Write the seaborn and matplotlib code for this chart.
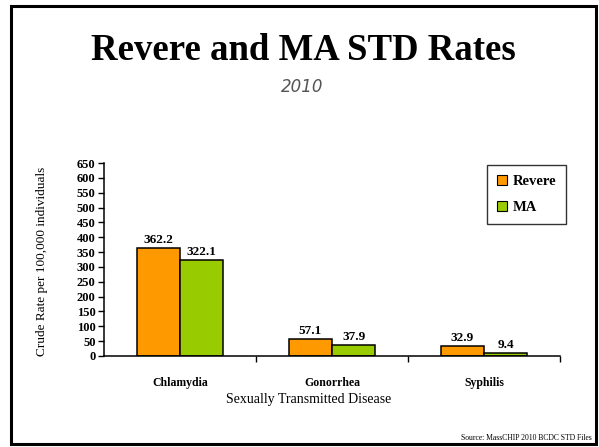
import matplotlib
matplotlib.use("Agg")
import matplotlib.pyplot as plt
import seaborn as sns
import pandas as pd
from matplotlib.patches import Rectangle
from matplotlib.ticker import FixedLocator

diseases = ["Chlamydia", "Gonorrhea", "Syphilis"]
revere = [362.2, 57.1, 32.9]
ma = [322.1, 37.9, 9.4]
series = ["Revere", "MA"]
colors = ["#FF9900", "#99CC00"]
yticks = list(range(0, 651, 50))

df = pd.DataFrame({
    "Disease": diseases * 2,
    "Rate": revere + ma,
    "Area": ["Revere"] * 3 + ["MA"] * 3,
})

sns.set_theme(style="white")
plt.rcParams["font.family"] = ["Liberation Serif", "DejaVu Serif"]
for k in ["text.color", "axes.labelcolor", "xtick.color", "ytick.color"]:
    plt.rcParams[k] = "black"

W, H = 599, 447
fig = plt.figure(figsize=(W / 100, H / 100), dpi=100)
ax = fig.add_axes([104 / W, 1 - 356 / H, (560 - 104) / W, (356 - 163) / H])

sns.barplot(data=df, x="Disease", y="Rate", hue="Area", order=diseases,
            hue_order=series, palette=colors, width=0.57, edgecolor="black",
            linewidth=1.1, saturation=1, ax=ax, legend=False)

for cont in ax.containers:
    ax.bar_label(cont, fmt="%.1f", padding=1.5, fontsize=9.5,
                 fontweight="bold", color="black")

ax.set_ylim(0, 650)
ax.set_xlim(-0.5, 2.5)
ax.set_yticks(yticks)
ax.set_yticklabels([str(v) for v in yticks], fontsize=9, fontweight="bold")
ax.tick_params(axis="y", which="major", direction="out", length=4, width=1,
               color="black", labelcolor="black", left=True, pad=2)
ax.set_xticks(range(3))
ax.set_xticklabels(diseases, fontsize=8.5, fontweight="bold")
ax.tick_params(axis="x", which="major", length=0, pad=15, labelcolor="black")
ax.xaxis.set_minor_locator(FixedLocator([0.5, 1.5, 2.5]))
ax.tick_params(axis="x", which="minor", direction="out", length=4, width=1,
               color="black", bottom=True)
for s in ["top", "right"]:
    ax.spines[s].set_visible(False)
for s in ["left", "bottom"]:
    ax.spines[s].set_color("black")
    ax.spines[s].set_linewidth(1.1)
ax.set_xlabel("")
ax.set_ylabel("")

fig.text(309 / W, 1 - 400 / H, "Sexually Transmitted Disease", ha="center",
         va="center", fontsize=10, color="black")
fig.text(42 / W, 1 - 261 / H, "Crude Rate per 100,000 individuals",
         rotation=90, ha="center", va="center", fontsize=9.5, color="black")

fig.text(303 / W, 1 - 50 / H, "Revere and MA STD Rates", ha="center",
         va="center", fontsize=26.5, fontweight="bold", color="black")
fig.text(302 / W, 1 - 87 / H, "2010", ha="center", va="center", fontsize=12,
         style="italic", color="#555555", family=["DejaVu Sans"])
fig.text(592 / W, 1 - 438 / H, "Source: MassCHIP 2010 BCDC STD Files",
         ha="right", va="center", fontsize=5.5, color="black")

# legend
handles = [Rectangle((0, 0), 1, 1, facecolor=c, edgecolor="black", lw=0.8)
           for c in colors]
leg = fig.legend(handles, series, loc="upper left",
                 bbox_to_anchor=(487 / W, 1 - 165 / H), borderaxespad=0,
                 frameon=True, fancybox=False, edgecolor="black",
                 handlelength=0.7, handleheight=0.7, handletextpad=0.35,
                 labelspacing=0.85, borderpad=0.7,
                 prop={"weight": "bold", "size": 10.5})
leg.get_frame().set_linewidth(1)
for t in leg.get_texts():
    t.set_color("black")

# slide border
fig.patches.append(Rectangle((11 / W, 3 / H), (596 - 11) / W, (441 - 3) / H,
                             transform=fig.transFigure, fill=False,
                             edgecolor="black", linewidth=2.2))

fig.savefig("out.png", dpi=100)
